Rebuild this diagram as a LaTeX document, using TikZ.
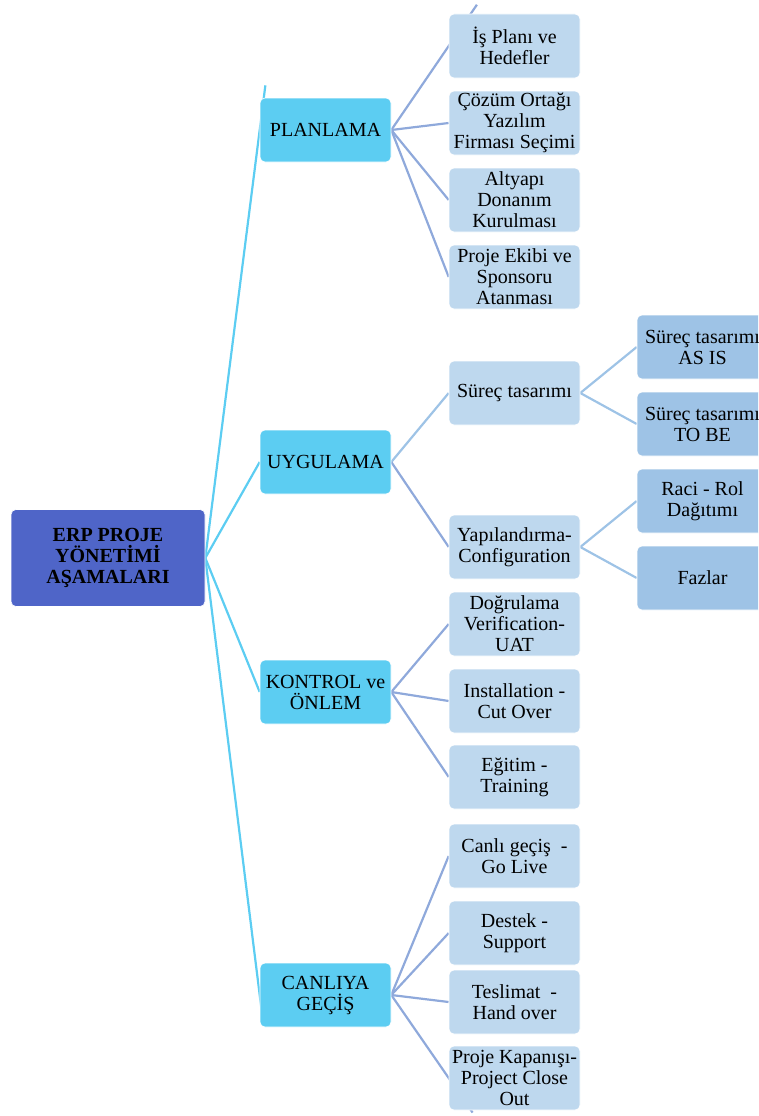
\documentclass[tikz,border=0pt]{standalone}
\usepackage{fontspec}
\setmainfont{Liberation Serif}
\usetikzlibrary{backgrounds}

\definecolor{rootblue}{RGB}{79,101,200}
\definecolor{skyblue}{RGB}{92,205,242}
\definecolor{paleblue}{RGB}{190,216,238}
\definecolor{midblue}{RGB}{158,195,230}
\definecolor{periwinkle}{RGB}{143,169,219}

\tikzset{
	box/.style={rounded corners=5pt, draw=white, line width=0.6pt, minimum width=131pt, minimum height=64pt, inner sep=1pt, align=center, font=\fontsize{20}{21}\selectfont},
	rootbox/.style={box, fill=rootblue, minimum width=194pt, minimum height=97pt, font=\fontsize{20}{21}\selectfont\bfseries},
	phasebox/.style={box, fill=skyblue},
	taskbox/.style={box, fill=paleblue},
	subbox/.style={box, fill=midblue},
	rootline/.style={skyblue, line width=2.2pt, shorten >=-#1},
	taskline/.style={periwinkle, line width=2.2pt, shorten >=-#1},
	subline/.style={midblue, line width=2.2pt}
}

\begin{document}
\begin{tikzpicture}[x=1pt, y=-1pt]
		\useasboundingbox (0,0) rectangle (758,1116);
		\clip (0,0) rectangle (758,1116);
		
		\node [rootbox] (root) at (108,558) {ERP PROJE\\YÖNETİMİ\\AŞAMALARI};
		
		\node [phasebox] (plan) at (325.5,130) {PLANLAMA};
		\node [phasebox] (uyg) at (325.5,462) {UYGULAMA};
		\node [phasebox] (kont) at (325.5,692) {KONTROL ve\\ÖNLEM};
		\node [phasebox] (canli) at (325.5,995) {CANLIYA\\GEÇİŞ};
		
		\node [taskbox] (isplani) at (514.5,46) {İş Planı ve\\Hedefler};
		\node [taskbox] (cozum) at (514.5,123) {Çözüm Ortağı\\Yazılım\\Firması Seçimi};
		\node [taskbox] (altyapi) at (514.5,200) {Altyapı\\Donanım\\Kurulması};
		\node [taskbox] (ekip) at (514.5,277) {Proje Ekibi ve\\Sponsoru\\Atanması};
		
		\node [taskbox] (surec) at (514.5,393) {Süreç tasarımı};
		\node [taskbox] (yapi) at (514.5,547) {Yapılandırma-\\Configuration};
		
		\node [taskbox] (dogru) at (514.5,624) {Doğrulama\\Verification-\\UAT};
		\node [taskbox] (install) at (514.5,701) {Installation -\\Cut Over};
		\node [taskbox] (egitim) at (514.5,777) {Eğitim -\\Training};
		
		\node [taskbox] (golive) at (514.5,856) {Canlı geçiş~~-\\Go Live};
		\node [taskbox] (destek) at (514.5,933) {Destek -\\Support};
		\node [taskbox] (teslim) at (514.5,1002) {Teslimat~~-\\Hand over};
		\node [taskbox] (kapanis) at (514.5,1078) {Proje Kapanışı-\\Project Close\\Out};
		
		\node [subbox] (asis) at (702.5,347) {Süreç tasarımı\\AS IS};
		\node [subbox] (tobe) at (702.5,424) {Süreç tasarımı\\TO BE};
		\node [subbox] (raci) at (702.5,501) {Raci - Rol\\Dağıtımı};
		\node [subbox] (fazlar) at (702.5,578) {Fazlar};
		
		\begin{scope}[on background layer]
		\draw [rootline=45pt] (root.east) -- (plan.west);
		\draw [rootline=0pt] (root.east) -- (uyg.west);
		\draw [rootline=0pt] (root.east) -- (kont.west);
		\draw [rootline=25pt] (root.east) -- (canli.west);
		
		\draw [taskline=50pt] (plan.east) -- (isplani.west);
		\draw [taskline=0pt] (plan.east) -- (cozum.west);
		\draw [taskline=0pt] (plan.east) -- (altyapi.west);
		\draw [taskline=0pt] (plan.east) -- (ekip.west);
		\draw [subline] (uyg.east) -- (surec.west);
		\draw [taskline=0pt] (uyg.east) -- (yapi.west);
		\draw [taskline=0pt] (kont.east) -- (dogru.west);
		\draw [taskline=0pt] (kont.east) -- (install.west);
		\draw [taskline=0pt] (kont.east) -- (egitim.west);
		\draw [taskline=0pt] (canli.east) -- (golive.west);
		\draw [taskline=0pt] (canli.east) -- (destek.west);
		\draw [taskline=0pt] (canli.east) -- (teslim.west);
		\draw [taskline=42pt] (canli.east) -- (kapanis.west);
		
		\draw [subline] (surec.east) -- (asis.west);
		\draw [subline] (surec.east) -- (tobe.west);
		\draw [subline] (yapi.east) -- (raci.west);
		\draw [subline] (yapi.east) -- (fazlar.west);
		\end{scope}
		
		\end{tikzpicture}
\end{document}
